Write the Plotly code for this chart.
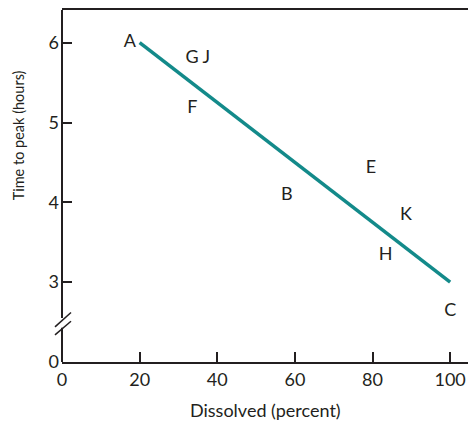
import plotly.graph_objects as go

# Data
labels = ["A", "G", "J", "F", "B", "E", "K", "H", "C"]
dissolved = [17.5, 33.5, 37.2, 33.6, 57.9, 79.6, 88.6, 83.4, 100.0]
time_to_peak = [6.0, 5.80, 5.80, 5.17, 4.09, 4.42, 3.84, 3.33, 2.63]

trend_x = [20, 100]
trend_y = [6.0, 3.0]

x_ticks = [0, 20, 40, 60, 80, 100]
y_tickvals = [2, 3, 4, 5, 6]
y_ticktext = ["0", "3", "4", "5", "6"]

FONT = "Lato"
INK = "#231f20"
TEAL = "#138a8a"

fig = go.Figure()
fig.add_trace(go.Scatter(x=trend_x, y=trend_y, mode="lines",
                         line=dict(color=TEAL, width=3.5), hoverinfo="skip"))
fig.add_trace(go.Scatter(x=dissolved, y=time_to_peak, mode="text", text=labels,
                         textposition="middle center",
                         textfont=dict(family=FONT, size=18, color=INK)))

Y_TOP = 6.41
GAP_LO, GAP_HI = 2.43, 2.55

shapes = [
    dict(type="line", xref="paper", yref="y", x0=0, x1=0, y0=2.0, y1=GAP_LO,
         line=dict(color=INK, width=2)),
    dict(type="line", xref="paper", yref="y", x0=0, x1=0, y0=GAP_HI, y1=Y_TOP,
         line=dict(color=INK, width=2)),
    dict(type="line", xref="paper", xsizemode="pixel", xanchor=0, yref="y",
         x0=-7, x1=9, y0=2.44, y1=2.62, line=dict(color=INK, width=1.5)),
    dict(type="line", xref="paper", xsizemode="pixel", xanchor=0, yref="y",
         x0=-7, x1=9, y0=2.34, y1=2.51, line=dict(color=INK, width=1.5)),
]

annotations = [
    dict(text="Dissolved (percent)", xref="paper", yref="paper", x=0.5, y=0,
         yshift=-48, xanchor="center", yanchor="middle", showarrow=False,
         font=dict(family=FONT, size=18, color=INK)),
    dict(text="Time to peak (hours)", xref="paper", yref="y", x=0, y=4.84,
         xshift=-44, xanchor="center", yanchor="middle", textangle=-90,
         showarrow=False, font=dict(family=FONT, size=14.5, color=INK)),
]

fig.update_layout(
    width=468, height=422,
    margin=dict(l=62, r=0, t=10, b=60, autoexpand=False),
    paper_bgcolor="white", plot_bgcolor="white",
    showlegend=False,
    font=dict(family=FONT, size=18, color=INK),
    shapes=shapes,
    annotations=annotations,
    xaxis=dict(range=[0, 104.6], tickvals=x_ticks, ticks="inside", ticklen=10,
               tickwidth=2, tickcolor=INK, showline=True, linecolor=INK,
               linewidth=2, mirror=True, showgrid=False, zeroline=False,
               automargin=False, tickfont=dict(size=18)),
    yaxis=dict(range=[2.0, Y_TOP], tickvals=y_tickvals, ticktext=y_ticktext,
               ticks="inside", ticklen=10, tickwidth=2, tickcolor=INK,
               ticklabelstandoff=2,
               showline=False, showgrid=False, zeroline=False,
               automargin=False, tickfont=dict(size=18)),
)

fig.write_html("out.html", config={"displayModeBar": False},
               post_script="document.body.style.margin='0';")
